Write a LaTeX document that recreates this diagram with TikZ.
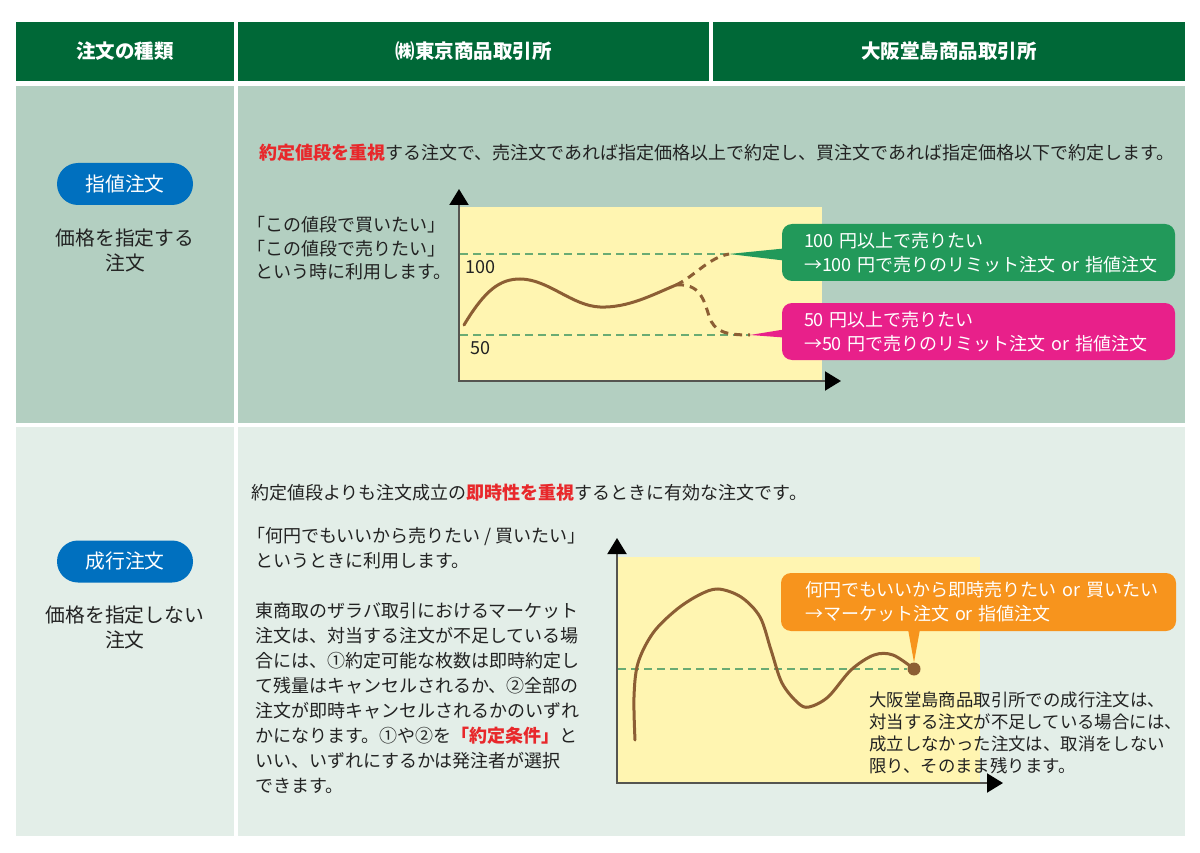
\documentclass[tikz,border=0pt]{standalone}
\usepackage{fontspec}
\setmainfont{Noto Sans CJK JP}
\usetikzlibrary{arrows.meta,calc}
\definecolor{hdr}{HTML}{006837}
\definecolor{rowA}{HTML}{B3CFC1}
\definecolor{rowB}{HTML}{E3EEE8}
\definecolor{pillblue}{HTML}{0070BF}
\definecolor{chartbg}{HTML}{FFF5B1}
\definecolor{curvec}{HTML}{8C5E34}
\definecolor{guidec}{HTML}{6AAB73}
\definecolor{cgreen}{HTML}{22995A}
\definecolor{cpink}{HTML}{E8208A}
\definecolor{corange}{HTML}{F7941D}
\definecolor{emph}{HTML}{E8282B}
\definecolor{txt}{HTML}{222222}
\definecolor{axisc}{HTML}{555550}
\begin{document}
\begin{tikzpicture}[x=1pt,y=-1pt,
 hcell/.style={fill=hdr, inner sep=0pt, text=white, font=\fontsize{19.5}{22}\selectfont\bfseries},
 cellA/.style={fill=rowA, inner sep=0pt},
 cellB/.style={fill=rowB, inner sep=0pt},
 pill/.style={fill=pillblue, rounded corners=21pt, minimum width=136pt, minimum height=42pt, inner sep=0pt, text=white, font=\fontsize{19.8}{22}\selectfont},
 celltext/.style={inner sep=0pt, text=txt, align=center, font=\fontsize{19.8}{25}\selectfont},
 bodytext/.style={inner sep=0pt, text=txt, align=left, anchor=west, font=\fontsize{18}{25}\selectfont},
 calloutbox/.style={rounded corners=10pt, minimum width=393pt, minimum height=57pt, inner xsep=22pt, inner ysep=0pt, text width=349pt, align=left, text=white, font=\fontsize{18}{24}\selectfont},
 axisline/.style={draw=axisc, line width=2pt, {Triangle[width=19pt,length=16pt,color=black]}-{Triangle[width=19pt,length=16pt,color=black]}},
 guideline/.style={draw=guidec, line width=1.6pt, dash pattern=on 8pt off 5pt},
 pricecurve/.style={draw=curvec, line width=3pt, line cap=round},
 dashcurve/.style={draw=curvec, line width=3pt, dash pattern=on 8pt off 6pt},
 numlabel/.style={inner sep=0pt, text=txt, anchor=west, font=\fontsize{18}{20}\selectfont},
]
\useasboundingbox (0,0) rectangle (1200,853);
\fill[white] (0,0) rectangle (1200,853);

% header
\node[hcell, minimum width=218pt, minimum height=59pt] (h1) at (125,51.5) {注文の種類};
\node[hcell, minimum width=471pt, minimum height=59pt] (h2) at (473.5,51.5) {㈱東京商品取引所};
\node[hcell, minimum width=472pt, minimum height=59pt] (h3) at (949,51.5) {大阪堂島商品取引所};

% row cells
\node[cellA, minimum width=218pt, minimum height=337pt] (r1a) at (125,254.5) {};
\node[cellA, minimum width=947pt, minimum height=337pt] (r1b) at (711.5,254.5) {};
\node[cellB, minimum width=218pt, minimum height=409pt] (r2a) at (125,631.5) {};
\node[cellB, minimum width=947pt, minimum height=409pt] (r2b) at (711.5,631.5) {};

% left column
\node[pill] (pill1) at (125,184) {指値注文};
\node[celltext] (lt1) at (125,250.5) {価格を指定する\\注文};
\node[pill] (pill2) at (125,561.5) {成行注文};
\node[celltext] (lt2) at (125,627) {価格を指定しない\\注文};

% row 1 body
\node[bodytext] (b1) at (259,153) {\textcolor{emph}{\bfseries 約定値段を重視}する注文で、売注文であれば指定価格以上で約定し、買注文であれば指定価格以下で約定します。};
\node[bodytext, font=\fontsize{18}{23.5}\selectfont] (b2) at (247,248.5) {「この値段で買いたい」\\「この値段で売りたい」\\\hspace*{8pt}という時に利用します。};

% chart 1
\fill[chartbg] (459,207) rectangle (822,381);
\coordinate (o1) at (459,381);
\coordinate (ya1) at (459,189);
\coordinate (xa1) at (841,381);
\coordinate (g100s) at (460,254);
\coordinate (g50s) at (460,335);
\coordinate (tip100) at (729,254);
\coordinate (tip50) at (750,335);
\draw[guideline] (g100s) -- (tip100);
\draw[guideline] (g50s) -- (tip50);
\draw[axisline] (ya1) -- (o1) -- (xa1);
\node[numlabel] (l100) at (465,267) {100};
\node[numlabel] (l50) at (470,348) {50};
\coordinate (fork) at (676,285);
\draw[pricecurve] (464,325) .. controls (485,290) and (500,279) .. (520,279)
  .. controls (548,279) and (572,306) .. (600,307)
  .. controls (628,308) and (652,295) .. (fork);
\draw[dashcurve] (fork) .. controls (695,276) and (708,258) .. (tip100);
\draw[dashcurve] (fork) .. controls (700,283) and (704,300) .. (709,316)
  .. controls (714,332) and (726,335) .. (tip50);

% callouts chart 1
\node[calloutbox, fill=cgreen] (c1) at (978.5,252.5) {\mbox{100 円以上で売りたい}\\\mbox{→100 円で売りのリミット注文 or 指値注文}};
\fill[cgreen] ($(c1.west)+(2,-4)$) -- (tip100) -- ($(c1.west)+(2,8)$) -- cycle;
\node[calloutbox, fill=cpink] (c2) at (978.5,331.5) {\mbox{50 円以上で売りたい}\\\mbox{→50 円で売りのリミット注文 or 指値注文}};
\fill[cpink] ($(c2.west)+(2,-2)$) -- (tip50) -- ($(c2.west)+(2,6)$) -- cycle;

% row 2 body
\node[bodytext] (b3) at (251,493) {約定値段よりも注文成立の\textcolor{emph}{\bfseries 即時性を重視}するときに有効な注文です。};
\node[bodytext] (b4) at (255,660) {\hspace*{-8pt}「何円でもいいから売りたい / 買いたい」\\というときに利用します。\\[25pt]東商取のザラバ取引におけるマーケット\\注文は、対当する注文が不足している場\\合には、①約定可能な枚数は即時約定し\\て残量はキャンセルされるか、②全部の\\注文が即時キャンセルされるかのいずれ\\かになります。①や②を\textcolor{emph}{\bfseries「約定条件」}と\\いい、いずれにするかは発注者が選択\\できます。};

% chart 2
\fill[chartbg] (617,557) rectangle (980,783);
\coordinate (o2) at (617,783);
\coordinate (ya2) at (617,538);
\coordinate (xa2) at (1003,783);
\coordinate (g2s) at (618,669);
\node[circle, fill=curvec, minimum size=13pt, inner sep=0pt] (dot) at (914,669) {};
\draw[guideline] (g2s) -- (dot);
\draw[axisline] (ya2) -- (o2) -- (xa2);
\draw[pricecurve] plot[smooth, tension=0.55] coordinates {(635,740) (634,697) (638,663) (653,633) (676,610) (699,595) (718,589) (741,597) (760,617) (771,650) (782,683) (798,703) (809,707) (828,697) (851,670) (874,655) (893,655) (914,669)};
\node[calloutbox, fill=corange, minimum width=395pt, minimum height=58pt, inner xsep=24pt, text width=347pt] (c3) at (978.5,602) {\mbox{何円でもいいから即時売りたい or 買いたい}\\\mbox{→マーケット注文 or 指値注文}};
\fill[corange] ($(c3.south -| dot)+(-6,-2)$) -- (dot.north) -- ($(c3.south -| dot)+(6,-2)$) -- cycle;
\node[bodytext, font=\fontsize{17.4}{22}\selectfont] (b5) at (869,733) {大阪堂島商品取引所での成行注文は、\\対当する注文が不足している場合には、\\成立しなかった注文は、取消をしない\\限り、そのまま残ります。};
\end{tikzpicture}
\end{document}
